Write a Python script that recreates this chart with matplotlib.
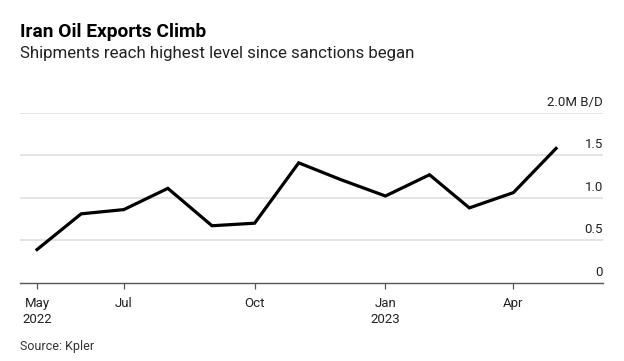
import matplotlib
matplotlib.use("Agg")
import matplotlib.pyplot as plt
import matplotlib.dates as mdates
import matplotlib.transforms as mtransforms
from datetime import date

# monthly Iran crude exports, million barrels/day
months = [date(2022, m, 1) for m in range(5, 13)] + [date(2023, m, 1) for m in range(1, 6)]
exports = [0.39, 0.81, 0.86, 1.11, 0.67, 0.70, 1.41, 1.21, 1.02, 1.27, 0.88, 1.06, 1.58]

tick_dates = [date(2022, 5, 1), date(2022, 7, 1), date(2022, 10, 1), date(2023, 1, 1), date(2023, 4, 1)]
tick_labels = ["May\n2022", "Jul", "Oct", "Jan\n2023", "Apr"]
y_ticks = [0, 0.5, 1.0, 1.5, 2.0]
y_labels = ["0", "0.5", "1.0", "1.5", "2.0M B/D"]

plt.rcParams['font.family'] = ['Roboto', 'DejaVu Sans']

fig = plt.figure(figsize=(6.24, 3.61), dpi=100)
ax = fig.add_axes([20 / 624, 78.3 / 361, 583 / 624, 170 / 361])

ax.plot(mdates.date2num(months), exports, color='black', linewidth=2.3,
        solid_joinstyle='miter', zorder=3, clip_on=False)

ax.set_xlim(mdates.date2num(date(2022, 4, 19)), mdates.date2num(date(2023, 6, 3)))
ax.set_ylim(0, 2.0)

# horizontal gridlines
for v in y_ticks[1:]:
    ax.axhline(v, color='#e2e2e2', linewidth=1.3, zorder=1)

# y labels sit above the gridlines, right aligned
off = mtransforms.offset_copy(ax.get_yaxis_transform(), fig=fig, x=0, y=5, units='points')
for v, lab in zip(y_ticks, y_labels):
    ax.text(1.0, v, lab, transform=off, ha='right', va='baseline',
            fontsize=9.5, color='#222222')

for s in ['top', 'right', 'left']:
    ax.spines[s].set_visible(False)
ax.spines['bottom'].set_color('#555555')
ax.spines['bottom'].set_linewidth(1.0)

ax.set_yticks([])
ax.set_xticks(mdates.date2num(tick_dates))
ax.set_xticklabels(tick_labels, fontsize=9.5, color='#222222', linespacing=1.35)
ax.tick_params(axis='x', length=4, width=0.9, color='#555555', pad=6)
for t in ax.get_xticklabels():
    t.set_verticalalignment('top')

fig.text(20 / 624, 1 - 36.7 / 361, "Iran Oil Exports Climb", fontsize=13.8,
         weight='bold', color='black', ha='left', va='baseline')
fig.text(20 / 624, 1 - 58.3 / 361, "Shipments reach highest level since sanctions began",
         fontsize=12.2, color='#222222', ha='left', va='baseline')
fig.text(20 / 624, 1 - 350 / 361, "Source: Kpler", fontsize=9, color='#333333',
         ha='left', va='baseline')

plt.savefig('out.png', dpi=100)
